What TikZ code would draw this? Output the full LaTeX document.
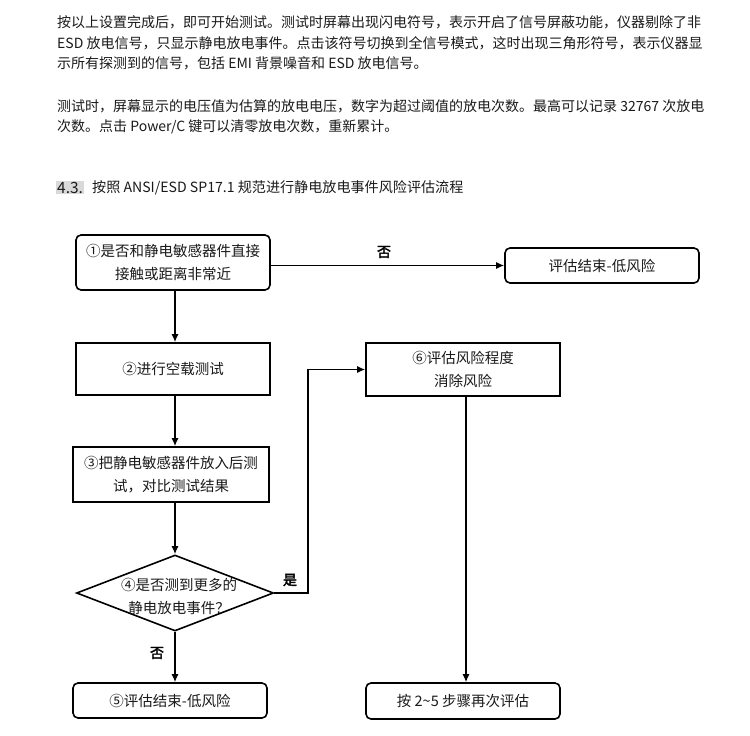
\documentclass[tikz,border=0pt]{standalone}
\usepackage{fontspec}
\setmainfont{Noto Sans CJK SC}
\newfontfamily\boldcjk{Noto Sans CJK SC}[FakeBold=2.5]
\usetikzlibrary{arrows.meta,shapes.geometric}
\definecolor{txt}{HTML}{1A1A1A}
\definecolor{hl}{HTML}{D9D9D9}
\tikzset{
  para/.style={anchor=west, inner sep=0pt, text=txt, font=\fontsize{14}{18}\selectfont},
  flowbox/.style={draw, line width=1.6pt, inner sep=0pt, align=center, text=txt,
     minimum width=194pt, font=\fontsize{14.5}{22.5}\selectfont},
  rflow/.style={flowbox, rounded corners=5pt},
  conn/.style={line width=1.3pt, -{Latex[length=8pt,width=7pt]}},
  lbl/.style={inner sep=0pt, font=\boldcjk\fontsize{14}{16}\selectfont}
}
\begin{document}
\begin{tikzpicture}[x=1pt,y=-1pt]
\useasboundingbox[fill=white] (0,0) rectangle (750,736);

% paragraph text
\node[para] (p1) at (57,22.5) {按以上设置完成后，即可开始测试。测试时屏幕出现闪电符号，表示开启了信号屏蔽功能，仪器剔除了非};
\node[para] (p2) at (57,43) {ESD 放电信号，只显示静电放电事件。点击该符号切换到全信号模式，这时出现三角形符号，表示仪器显};
\node[para] (p3) at (57,63) {示所有探测到的信号，包括 EMI 背景噪音和 ESD 放电信号。};
\node[para] (p4) at (57,106.5) {测试时，屏幕显示的电压值为估算的放电电压，数字为超过阈值的放电次数。最高可以记录 32767 次放电};
\node[para] (p5) at (57,127) {次数。点击 Power/C 键可以清零放电次数，重新累计。};

% heading
\node[anchor=west, fill=hl, inner xsep=1pt, inner ysep=1pt, text=txt, font=\fontsize{15.5}{18}\selectfont] (h1) at (56,187.5) {4.3.};
\node[anchor=west, inner sep=0pt, text=txt, font=\fontsize{14.1}{16}\selectfont] (h2) at (92,187.5) {按照 ANSI/ESD SP17.1 规范进行静电放电事件风险评估流程};

% flow boxes
\node[rflow, minimum height=55pt] (b1) at (173,262.5) {①是否和静电敏感器件直接\\接触或距离非常近};
\node[rflow, minimum height=35pt] (e1) at (602,265.5) {评估结束-低风险};
\node[flowbox, minimum height=52pt] (b2) at (173,369) {②进行空载测试};
\node[flowbox, minimum width=196pt, minimum height=55pt] (b3) at (171,474.5) {③把静电敏感器件放入后测\\试，对比测试结果};
\node[draw, diamond, line width=1.6pt, minimum width=197pt, minimum height=76pt, inner sep=0pt] (d4) at (175,593) {};
\node[inner sep=0pt, align=center, text=txt, font=\fontsize{14.5}{23}\selectfont] (d4t) at (179,596) {④是否测到更多的\\静电放电事件？};
\node[rflow, minimum height=35pt] (b5) at (170,700.5) {⑤评估结束-低风险};
\node[flowbox, minimum height=53pt] (b6) at (463,369.5) {⑥评估风险程度\\消除风险};
\node[rflow, minimum height=36pt] (b7) at (463,701) {按 2\textasciitilde 5 步骤再次评估};

% connectors
\draw[conn] (b1.east |- e1.west) -- (e1.west);
\draw[conn] (b1.south -| d4.north) -- (b2.north -| d4.north);
\draw[conn] (b2.south -| d4.north) -- (b3.north -| d4.north);
\draw[conn] (b3.south -| d4.north) -- (d4.north);
\draw[conn] (d4.south) -- (b5.north -| d4.south);
\coordinate (k) at (308,369.5);
\draw[conn] (d4.east) -| (k) -- (b6.west);
\draw[conn] ([xshift=3pt]b6.south) -- ([xshift=3pt]b7.north);

% labels
\node[lbl] (l1) at (384,252) {否};
\node[lbl] (l2) at (290,580) {是};
\node[lbl] (l3) at (157,653) {否};
\end{tikzpicture}
\end{document}
